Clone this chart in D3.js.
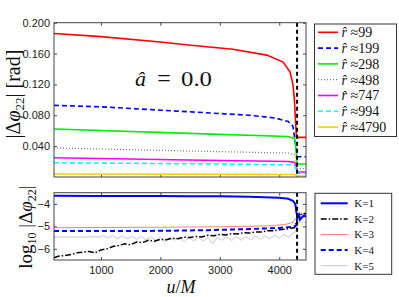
<!DOCTYPE html>
<html>
<head>
<meta charset="utf-8">
<script src="https://cdn.jsdelivr.net/npm/d3@7"></script>
<style>
  body { margin: 0; background: #fff; }
  svg { display: block; }
  .tick text { font-family: 'Liberation Sans', Arial, sans-serif; font-size: 11px; fill: #222; }
  .tick line { stroke: #444; }
</style>
</head>
<body>
<svg class="canvas" width="399" height="297"></svg>
<script>
// top panel: |dphi22| for each extraction radius
const topNames = ['99', '199', '298', '498', '747', '994', '4790'];
const uRed = [210, 1000, 2000, 2470, 3220, 3790, 4065, 4182, 4230, 4255, 4275, 4290, 4450];
const vRed = [0.186, 0.182, 0.175, 0.171, 0.1655, 0.158, 0.149, 0.136, 0.12, 0.10, 0.07, 0.0514, 0.0514];
const uBlue = [210, 1000, 2470, 3500, 3930, 4150, 4230, 4270, 4300, 4450];
const vBlue = [0.0929, 0.091, 0.0846, 0.080, 0.0765, 0.072, 0.066, 0.045, 0.0263, 0.0263];
const uLow = [210, 2470, 4150, 4260, 4285, 4300, 4450];
const vGreen = [0.0622, 0.0566, 0.0525, 0.050, 0.035, 0.0168, 0.0168];
const vGrey = [0.0376, 0.0337, 0.031, 0.029, 0.020, 0.0108, 0.0108];
const vMagenta = [0.025, 0.022, 0.020, 0.019, 0.012, 0.0065, 0.0065];
const vCyan = [0.0185, 0.0172, 0.0158, 0.015, 0.009, 0.0048, 0.0048];
const vYellow = [0.0039, 0.0035, 0.0033, 0.0032, 0.002, 0.0013, 0.0013];

// bottom panel: log10 |dphi22| for extrapolation order K
const kNames = ['K=1', 'K=2', 'K=3', 'K=4', 'K=5'];
const uK1 = [210, 1000, 2000, 2470, 3000, 3500, 4000, 4150, 4230, 4270, 4290, 4310, 4330, 4350, 4380, 4410, 4450];
const vK1 = [-3.64, -3.645, -3.65, -3.655, -3.66, -3.68, -3.72, -3.77, -3.86, -4.0, -4.4, -4.5, -4.45, -4.7, -4.6, -4.55, -4.55];
const uK2 = [210, 280, 400, 500, 600, 700, 800, 900, 1000, 1100, 1200, 1300, 1400, 1500, 1600, 1700, 1800, 1900, 2000,
  2100, 2200, 2300, 2400, 2500, 2600, 2700, 2800, 2900, 3000, 3100, 3200, 3300, 3400, 3500, 3600, 3700, 3800, 3900,
  4000, 4100, 4200, 4260, 4290, 4310, 4350, 4400, 4450];
const vK2 = [-6.40, -6.33, -6.30, -6.25, -6.18, -6.15, -6.12, -6.18, -6.05, -6.0, -5.90, -5.85, -5.78, -5.82, -5.70,
  -5.72, -5.62, -5.66, -5.58, -5.6, -5.53, -5.55, -5.48, -5.5, -5.45, -5.47, -5.40, -5.42, -5.36, -5.38, -5.33, -5.34,
  -5.28, -5.3, -5.25, -5.25, -5.2, -5.2, -5.15, -5.13, -5.08, -5.05, -4.8, -4.55, -4.48, -4.45, -4.42];
const uK3 = [210, 1000, 2000, 3000, 3800, 4100, 4230, 4290, 4320, 4450];
const vK3 = [-5.06, -5.05, -5.04, -5.02, -4.98, -4.92, -4.82, -4.6, -4.5, -4.4];
const uK4 = [210, 1000, 2000, 2800, 3500, 4000, 4230, 4290, 4310, 4350, 4450];
const vK4 = [-5.21, -5.21, -5.2, -5.17, -5.12, -5.07, -5.02, -4.95, -4.6, -4.55, -4.5];
const uK5 = [210, 1000, 1040, 1120, 1200, 1280, 1360, 1440, 1520, 1600, 1680, 1760, 1840, 1920, 2000, 2080, 2160, 2240,
  2320, 2400, 2480, 2560, 2640, 2720, 2800, 2880, 2960, 3040, 3120, 3200, 3280, 3360, 3440, 3520, 3600, 3680, 3760,
  3840, 3920, 4000, 4080, 4160, 4230, 4280, 4310, 4340, 4380, 4450];
const vK5 = [-5.48, -5.47, -5.40, -5.52, -5.42, -5.55, -5.43, -5.56, -5.44, -5.58, -5.45, -5.60, -5.47, -5.62, -5.48,
  -5.70, -5.50, -5.62, -5.49, -5.68, -5.50, -5.64, -5.49, -5.66, -5.48, -5.78, -5.50, -5.63, -5.47, -5.64, -5.46,
  -5.62, -5.45, -5.60, -5.43, -5.58, -5.42, -5.56, -5.40, -5.52, -5.36, -5.48, -5.30, -5.2, -4.9, -4.8, -4.85, -4.8];

const mergerU = 4300;
const xTicks = [1000, 2000, 3000, 4000];
const topTicks = [0.04, 0.08, 0.12, 0.16, 0.2];
const botTicks = [-6, -5, -4];

const SERIF = "'Liberation Serif', 'Times New Roman', 'DejaVu Serif', serif";

const svg = d3.select('.canvas');
const L = 54, R = 306;
const topBox = [22.7, 177];
const botBox = [192.7, 260];

const x = d3.scaleLinear().domain([210, 4450]).range([L, R]);
const yTop = d3.scaleLinear().domain([0, 0.2]).range([topBox[1], topBox[0]]);
const yBot = d3.scaleLinear().domain([-6.5, -3.5]).range([botBox[1], botBox[0]]);

// draw axes frame with inward ticks on all four sides
function frame(y, ticksY, fmt, box, showX) {
  const g = svg.append('g');
  g.append('g').attr('transform', `translate(0,${box[1]})`)
    .call(d3.axisBottom(x).tickValues(xTicks).tickSizeInner(-3).tickSizeOuter(0).tickPadding(6)
      .tickFormat(showX ? d3.format('d') : ''));
  g.append('g').attr('transform', `translate(0,${box[0]})`)
    .call(d3.axisTop(x).tickValues(xTicks).tickSizeInner(-3).tickSizeOuter(0).tickFormat(''));
  g.append('g').attr('transform', `translate(${L},0)`)
    .call(d3.axisLeft(y).tickValues(ticksY).tickSizeInner(-3).tickSizeOuter(0).tickPadding(4).tickFormat(fmt));
  g.append('g').attr('transform', `translate(${R},0)`)
    .call(d3.axisRight(y).tickValues(ticksY).tickSizeInner(-3).tickSizeOuter(0).tickFormat(''));
  g.selectAll('.domain').remove();
  return g;
}
frame(yTop, topTicks, d3.format('.3f'), topBox, false);
frame(yBot, botTicks, d3.format('d'), botBox, true);

svg.append('clipPath').attr('id', 'ct').append('rect')
  .attr('x', L).attr('y', topBox[0]).attr('width', R - L).attr('height', topBox[1] - topBox[0]);
svg.append('clipPath').attr('id', 'cb').append('rect')
  .attr('x', L).attr('y', botBox[0]).attr('width', R - L).attr('height', botBox[1] - botBox[0]);

const topSeries = [
  { u: uRed, v: vRed, color: '#ff0000', dash: null, w: 1.6 },
  { u: uBlue, v: vBlue, color: '#0000ff', dash: '5,3', w: 1.6 },
  { u: uLow, v: vGreen, color: '#00ee00', dash: null, w: 1.6 },
  { u: uLow, v: vGrey, color: '#777', dash: '1,2', w: 1.2 },
  { u: uLow, v: vMagenta, color: '#ff00ff', dash: null, w: 1.6 },
  { u: uLow, v: vCyan, color: '#00ffff', dash: '5,3', w: 1.6 },
  { u: uLow, v: vYellow, color: '#f5d000', dash: null, w: 1.6 }
];
const botSeries = [
  { u: uK5, v: vK5, color: '#c8c8c8', dash: null, w: 1 },
  { u: uK3, v: vK3, color: '#ff8080', dash: null, w: 1 },
  { u: uK2, v: vK2, color: '#000', dash: '6,2,1.5,2', w: 1.5 },
  { u: uK4, v: vK4, color: '#0000ff', dash: '5,3', w: 2 },
  { u: uK1, v: vK1, color: '#0000ff', dash: null, w: 2 }
];

function drawLines(series, y, clip) {
  const g = svg.append('g').attr('clip-path', `url(#${clip})`);
  series.forEach((s) => {
    const pts = s.u.map((u, i) => [u, s.v[i]]);
    g.append('path')
      .attr('d', d3.line().x((d) => x(d[0])).y((d) => y(d[1]))(pts))
      .attr('fill', 'none')
      .attr('stroke', s.color)
      .attr('stroke-width', s.w)
      .attr('stroke-dasharray', s.dash);
  });
  return g;
}
const gt = drawLines(topSeries, yTop, 'ct');
const gb = drawLines(botSeries, yBot, 'cb');

// merger marker
[[gt, topBox], [gb, botBox]].forEach(([g, box]) => {
  g.append('line')
    .attr('x1', x(mergerU)).attr('x2', x(mergerU))
    .attr('y1', box[0]).attr('y2', box[1])
    .attr('stroke', '#000').attr('stroke-width', 2).attr('stroke-dasharray', '4,3');
});

// boxes
[topBox, botBox].forEach((box) => {
  svg.append('rect').attr('x', L).attr('y', box[0]).attr('width', R - L).attr('height', box[1] - box[0])
    .attr('fill', 'none').attr('stroke', '#444').attr('stroke-width', 1);
});

function serifText(px, py, size) {
  return svg.append('text').attr('font-family', SERIF).attr('fill', '#111')
    .attr('x', px).attr('y', py).attr('font-size', size);
}

// annotation
serifText(135, 86, 22).attr('font-style', 'italic').text('â');
serifText(164, 86, 24).attr('text-anchor', 'middle').text('=');
serifText(181, 86, 22).attr('textLength', 31).attr('lengthAdjust', 'spacingAndGlyphs').text('0.0');

// axis titles
serifText(0, 0, 20).attr('transform', 'translate(20,94) rotate(-90)').attr('text-anchor', 'middle')
  .html('|Δ<tspan font-style="italic">φ</tspan><tspan font-size="13" dy="4">22</tspan><tspan dy="-4">| [rad]</tspan>');
serifText(0, 0, 19).attr('transform', 'translate(32,227) rotate(-90)').attr('text-anchor', 'middle')
  .html('log<tspan font-size="12" dy="4">10</tspan><tspan dy="-4"> |Δ</tspan><tspan font-style="italic">φ</tspan><tspan font-size="12" dy="4">22</tspan><tspan dy="-4">|</tspan>');
serifText(181, 293, 18).attr('text-anchor', 'middle')
  .html('<tspan font-style="italic">u</tspan>/<tspan font-style="italic">M</tspan>');

// legends
function legend(series, names, bx, by, bw, bh, y0, dy, lx0, lx1, tx, fs, fmtName) {
  const g = svg.append('g');
  g.append('rect').attr('x', bx).attr('y', by).attr('width', bw).attr('height', bh)
    .attr('fill', '#fff').attr('stroke', '#333').attr('stroke-width', 1);
  series.forEach((s, i) => {
    const yy = y0 + i * dy;
    g.append('line').attr('x1', lx0).attr('x2', lx1).attr('y1', yy).attr('y2', yy)
      .attr('stroke', s.color).attr('stroke-width', s.w).attr('stroke-dasharray', s.dash);
    g.append('text').attr('font-family', SERIF).attr('fill', '#111')
      .attr('x', tx).attr('y', yy + fs * 0.35)
      .attr('font-size', fs).html(fmtName(names[i]));
  });
}
legend(topSeries, topNames, 314.5, 24, 82, 112.5, 32.3, 15.8, 318, 338, 341.5, 14,
  (n) => '<tspan font-style="italic">r̂</tspan> ≈' + n);
const kOrder = [botSeries[4], botSeries[2], botSeries[1], botSeries[3], botSeries[0]];
legend(kOrder, kNames, 315, 193.3, 76.7, 81, 203.3, 15.6, 320.7, 347.7, 354.3, 11, (n) => n);
</script>
</body>
</html>
